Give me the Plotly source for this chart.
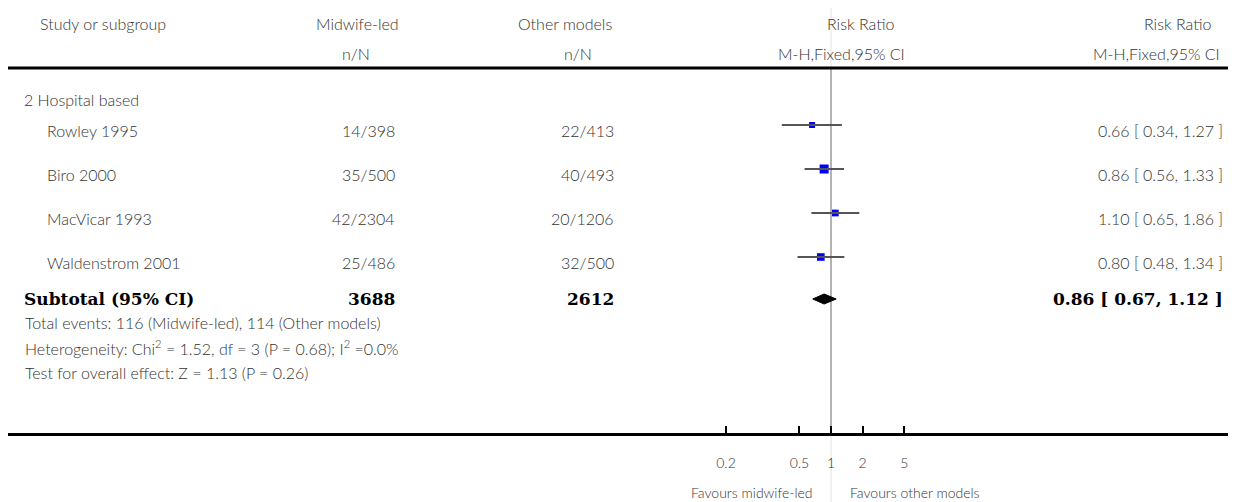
import plotly.graph_objects as go

# ---------------- data ----------------
studies = ["Rowley 1995", "Biro 2000", "MacVicar 1993", "Waldenstrom 2001"]
mw_events = [14, 35, 42, 25]
mw_total = [398, 500, 2304, 486]
ot_events = [22, 40, 20, 32]
ot_total = [413, 493, 1206, 500]
rr = [0.66, 0.86, 1.10, 0.80]
rr_lo = [0.34, 0.56, 0.65, 0.48]
rr_hi = [1.27, 1.33, 1.86, 1.34]
weights = [18.1, 33.6, 21.9, 26.4]  # estimated study weights (%)

subgroup = "2 Hospital based"
sub_mw_total = 3688
sub_ot_total = 2612
sub_rr, sub_lo, sub_hi = 0.86, 0.67, 1.12
total_events_text = "Total events: 116 (Midwife-led), 114 (Other models)"
het_text = "Heterogeneity: Chi<sup>2</sup> = 1.52, df = 3 (P = 0.68); I<sup>2</sup> =0.0%"
test_text = "Test for overall effect: Z = 1.13 (P = 0.26)"

tick_vals = [0.1, 0.5, 1, 2, 5]
tick_text = ["0.2", "0.5", "1", "2", "5"]
left_label = "Favours midwife-led"
right_label = "Favours other models"

# ---------------- geometry (page pixels; page has an 8px body margin) ----------------
OFF = 8
W, H = 1236 - OFF, 502 - OFF
X_ONE = 831          # page pixel of RR = 1
PX_DEC = 105         # pixels per decade
span = W / PX_DEC
r0 = -(X_ONE - OFF) / PX_DEC
r1 = r0 + span

def px(x):
    return (x - OFF) / W

row_y = [125 + 44 * i for i in range(len(studies))]
text_dy = 5
sub_y = 299
axis_y = 434

FONT = "Lato"
FS = 16
TC = "#333333"
SERIF = "DejaVu Serif"
BS = 17

fig = go.Figure()

# study squares
fig.add_trace(go.Scatter(
    x=rr, y=row_y, mode="markers",
    marker=dict(symbol="square", color="#0000ff", opacity=1,
                size=[2.5 + 0.194 * w for w in weights], line=dict(width=0)),
    hoverinfo="skip", showlegend=False))

# confidence intervals
for lo, hi, y in zip(rr_lo, rr_hi, row_y):
    fig.add_trace(go.Scatter(x=[lo, hi], y=[y, y], mode="lines",
                             line=dict(color="#555555", width=1.8),
                             hoverinfo="skip", showlegend=False))

# subtotal diamond
fig.add_trace(go.Scatter(
    x=[sub_lo, sub_rr, sub_hi, sub_rr, sub_lo],
    y=[sub_y, sub_y - 5, sub_y, sub_y + 5, sub_y],
    mode="lines", fill="toself", fillcolor="black",
    line=dict(color="black", width=1), hoverinfo="skip", showlegend=False))

shapes = [
    dict(type="line", xref="x", yref="y", x0=1, x1=1, y0=OFF, y1=502,
         line=dict(color="#e4e4e4", width=1), layer="below"),
    dict(type="line", xref="x", yref="y", x0=1, x1=1, y0=68, y1=axis_y,
         line=dict(color="#777777", width=1), layer="below"),
    dict(type="line", xref="paper", yref="y", x0=0, x1=1, y0=68, y1=68,
         line=dict(color="black", width=3)),
]

ann = []
def add_text(x, y, text, anchor="left", size=FS, font=FONT, color=TC, weight=300):
    ann.append(dict(x=px(x), y=y, xref="paper", yref="y", text=text,
                    showarrow=False, xanchor=anchor, yanchor="middle",
                    font=dict(family=font, size=size, color=color, weight=weight)))

# headers
add_text(38, 23, "Study or subgroup")
add_text(357, 23, "Midwife-led", "center")
add_text(356, 53, "n/N", "center")
add_text(565, 23, "Other models", "center")
add_text(578, 53, "n/N", "center")
add_text(860, 23, "Risk Ratio", "center")
add_text(841, 53, "M-H,Fixed,95% CI", "center")
add_text(1177, 23, "Risk Ratio", "center")
add_text(1156, 53, "M-H,Fixed,95% CI", "center")

add_text(22, 99, subgroup)
for i, s in enumerate(studies):
    y = row_y[i] + text_dy
    add_text(45, y, s)
    add_text(397, y, f"{mw_events[i]}/{mw_total[i]}", "right")
    add_text(616, y, f"{ot_events[i]}/{ot_total[i]}", "right")
    add_text(1225, y, f"{rr[i]:.2f} [ {rr_lo[i]:.2f}, {rr_hi[i]:.2f} ]", "right")

add_text(22, sub_y, "<b>Subtotal (95% CI)</b>", size=BS, font=SERIF, color="black", weight=700)
add_text(397, sub_y, f"<b>{sub_mw_total}</b>", "right", size=BS, font=SERIF, color="black", weight=700)
add_text(616, sub_y, f"<b>{sub_ot_total}</b>", "right", size=BS, font=SERIF, color="black", weight=700)
add_text(1225, sub_y, f"<b>{sub_rr:.2f} [ {sub_lo:.2f}, {sub_hi:.2f} ]</b>", "right",
         size=BS, font=SERIF, color="black", weight=700)
add_text(23, 322, total_events_text)
add_text(23, 347, het_text)
add_text(23, 372, test_text)

add_text(815, 492, left_label, "right", size=14)
add_text(848, 492, right_label, "left", size=14)

fig.update_layout(
    width=W, height=H,
    margin=dict(l=0, r=0, t=0, b=0),
    paper_bgcolor="white", plot_bgcolor="white",
    shapes=shapes, annotations=ann,
    xaxis=dict(type="log", range=[r0, r1], anchor="free",
               position=(502 - axis_y) / H, showgrid=False, zeroline=False,
               showline=True, linewidth=3, linecolor="black",
               ticks="inside", ticklen=7, tickwidth=2, tickcolor="black",
               tickvals=tick_vals, ticktext=tick_text,
               tickfont=dict(family=FONT, size=14, color=TC, weight=300),
               ticklabelstandoff=15),
    yaxis=dict(range=[502, OFF], visible=False, showgrid=False, zeroline=False),
    showlegend=False,
)

fig.write_html("out.html")
